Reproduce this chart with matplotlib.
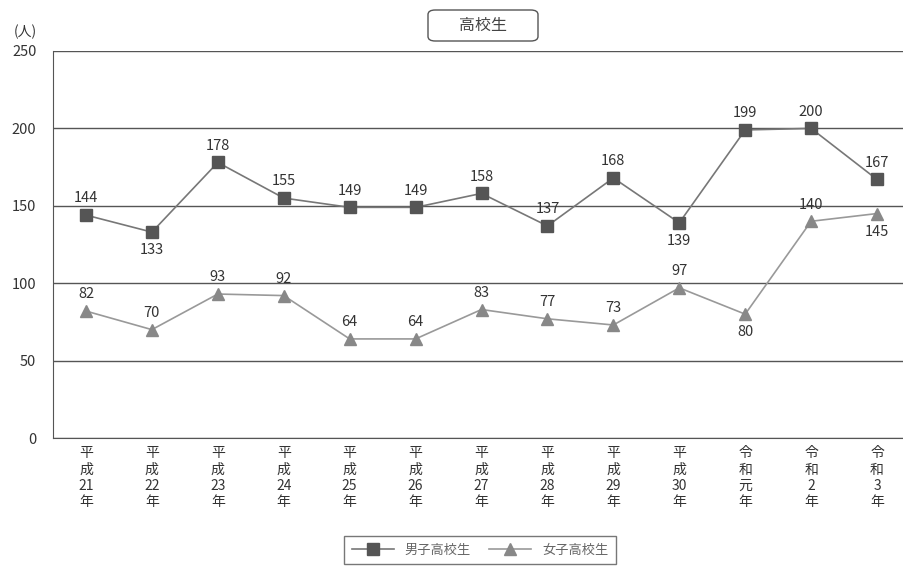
import matplotlib.pyplot as plt
from matplotlib.patches import FancyBboxPatch

plt.rcParams['font.family'] = ['Noto Sans CJK JP', 'DejaVu Sans']

years = ['平\n成\n21\n年', '平\n成\n22\n年', '平\n成\n23\n年', '平\n成\n24\n年',
         '平\n成\n25\n年', '平\n成\n26\n年', '平\n成\n27\n年', '平\n成\n28\n年',
         '平\n成\n29\n年', '平\n成\n30\n年', '令\n和\n元\n年', '令\n和\n2\n年',
         '令\n和\n3\n年']
boys = [144, 133, 178, 155, 149, 149, 158, 137, 168, 139, 199, 200, 167]
girls = [82, 70, 93, 92, 64, 64, 83, 77, 73, 97, 80, 140, 145]
# ラベルを点の下に置く年
boys_below = [1, 9]
girls_below = [10, 12]

fig = plt.figure(figsize=(9.04, 5.68), dpi=100)
ax = fig.add_axes([53 / 904, 130 / 568, 857 / 904, 387 / 568])

x = list(range(len(years)))
ax.plot(x, boys, color='#777777', lw=1.2, marker='s', ms=8.5,
        mfc='#555555', mec='#555555', label='男子高校生', zorder=3)
ax.plot(x, girls, color='#999999', lw=1.2, marker='^', ms=8.5,
        mfc='#888888', mec='#888888', label='女子高校生', zorder=3)

for i, v in enumerate(boys):
    dy = -13 if i in boys_below else 12
    ax.annotate(str(v), (i, v), xytext=(0, dy), textcoords='offset points',
                ha='center', va='center', fontsize=10.5, color='#333333')
for i, v in enumerate(girls):
    dy = -13 if i in girls_below else 12
    ax.annotate(str(v), (i, v), xytext=(0, dy), textcoords='offset points',
                ha='center', va='center', fontsize=10.5, color='#333333')

ax.set_xlim(-0.5, 12.5)
ax.set_ylim(0, 250)
ax.set_yticks([0, 50, 100, 150, 200, 250])
ax.set_xticks(x)
ax.set_xticklabels(years, fontsize=10, linespacing=1.2, color='#333333')
ax.tick_params(length=0, pad=6)
ax.tick_params(axis='y', labelsize=10.5, labelcolor='#333333', pad=12)
ax.grid(axis='y', color='#555555', lw=1.0)
for s in ['top', 'right']:
    ax.spines[s].set_visible(False)
for s in ['left', 'bottom']:
    ax.spines[s].set_color('#555555')

fig.text(25 / 904, 1 - 32 / 568, '(人)', ha='center', va='center', fontsize=10, color='#333333')

# タイトル枠
box = FancyBboxPatch((428 / 904, 1 - 41 / 568), 110 / 904, 31 / 568,
                     boxstyle='round,pad=0,rounding_size=0.008',
                     transform=fig.transFigure, fc='white', ec='#555555', lw=1)
fig.patches.append(box)
fig.text(483 / 904, 1 - 25 / 568, '高校生', ha='center', va='center', fontsize=11.5, color='#444444')

fig.legend(loc='center', bbox_to_anchor=(480 / 904, 1 - 550 / 568), ncol=2,
           frameon=True, fancybox=False, edgecolor='#555555', fontsize=9.5,
           handlelength=3.2, columnspacing=1.4, borderpad=0.6, labelcolor='#666666')

fig.savefig('out.png', dpi=100)
